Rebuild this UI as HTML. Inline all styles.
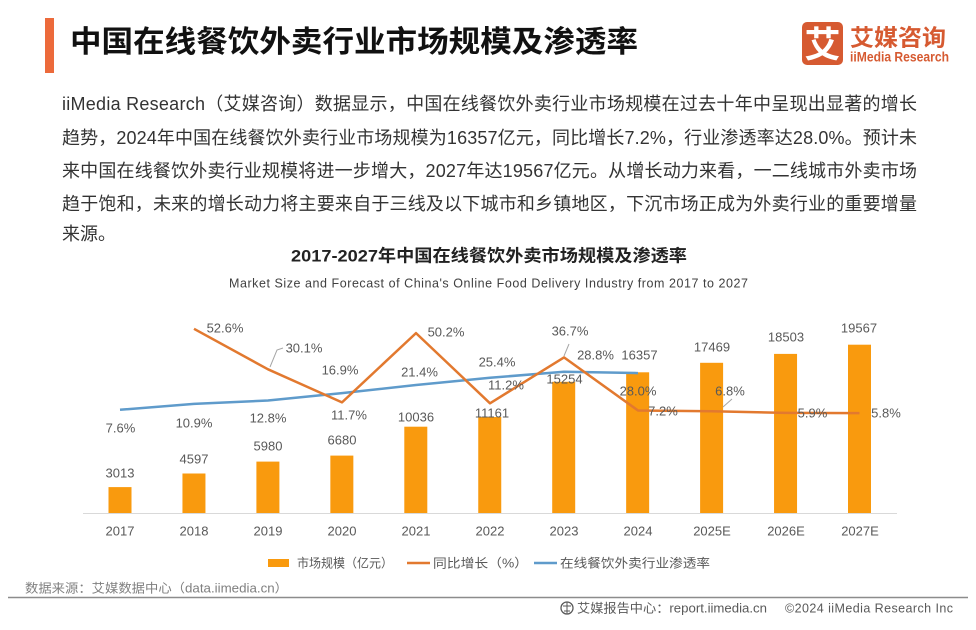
<!DOCTYPE html>
<html>
<head>
<meta charset="utf-8">
<style>
html,body{margin:0;padding:0;background:#fff;}
svg{display:block;}
text{font-family:"Liberation Sans","Noto Sans CJK SC",sans-serif;}
</style>
</head>
<body>
<svg width="976" height="630" viewBox="0 0 976 630" xmlns="http://www.w3.org/2000/svg">
<rect x="0" y="0" width="976" height="630" fill="#ffffff"/>

<!-- Header -->
<rect x="45" y="18" width="9" height="55" fill="#EC6A3B"/>
<text x="70" y="52" font-size="30" font-weight="bold" fill="#111" textLength="568" lengthAdjust="spacingAndGlyphs">中国在线餐饮外卖行业市场规模及渗透率</text>

<!-- Logo -->
<rect x="802" y="22" width="41" height="43" rx="5" fill="#D65A31"/>
<text x="822.5" y="57" font-size="36" font-weight="bold" fill="#fff" text-anchor="middle">艾</text>
<text x="850" y="45.5" font-size="23" font-weight="bold" fill="#D65A31" textLength="96" lengthAdjust="spacingAndGlyphs">艾媒咨询</text>
<text x="850" y="61.5" font-size="14" font-weight="bold" fill="#D65A31" textLength="99" lengthAdjust="spacingAndGlyphs">iiMedia Research</text>

<!-- Paragraph -->
<g font-size="18" fill="#333">
<text x="62" y="110" textLength="855" lengthAdjust="spacing">iiMedia Research（艾媒咨询）数据显示，中国在线餐饮外卖行业市场规模在过去十年中呈现出显著的增长</text>
<text x="62" y="144" textLength="855" lengthAdjust="spacing">趋势，2024年中国在线餐饮外卖行业市场规模为16357亿元，同比增长7.2%，行业渗透率达28.0%。预计未</text>
<text x="62" y="177" textLength="855" lengthAdjust="spacing">来中国在线餐饮外卖行业规模将进一步增大，2027年达19567亿元。从增长动力来看，一二线城市外卖市场</text>
<text x="62" y="210" textLength="855" lengthAdjust="spacing">趋于饱和，未来的增长动力将主要来自于三线及以下城市和乡镇地区，下沉市场正成为外卖行业的重要增量</text>
<text x="62" y="240">来源。</text>
</g>

<!-- Chart titles -->
<text x="291" y="261.5" font-size="17" font-weight="bold" fill="#222" textLength="396" lengthAdjust="spacingAndGlyphs">2017-2027年中国在线餐饮外卖市场规模及渗透率</text>
<text x="229" y="287.5" font-size="12.5" fill="#404040" textLength="519" lengthAdjust="spacing">Market Size and Forecast of China's Online Food Delivery Industry from 2017 to 2027</text>

<!-- Axis -->
<line x1="83" y1="513.5" x2="897" y2="513.5" stroke="#d9d9d9" stroke-width="1"/>

<!-- Bars -->
<g fill="#F99A0E">
<rect x="108.5" y="487.1" width="23" height="25.9"/>
<rect x="182.45" y="473.5" width="23" height="39.5"/>
<rect x="256.4" y="461.6" width="23" height="51.4"/>
<rect x="330.35" y="455.6" width="23" height="57.4"/>
<rect x="404.3" y="426.7" width="23" height="86.3"/>
<rect x="478.25" y="417.0" width="23" height="96.0"/>
<rect x="552.2" y="381.8" width="23" height="131.2"/>
<rect x="626.15" y="372.3" width="23" height="140.7"/>
<rect x="700.1" y="362.8" width="23" height="150.2"/>
<rect x="774.05" y="353.9" width="23" height="159.1"/>
<rect x="848" y="344.7" width="23" height="168.3"/>
</g>

<!-- Penetration line -->
<polyline fill="none" stroke="#5F9BCB" stroke-width="2.5" stroke-linejoin="round" points="120,409.8 194,403.9 268,400.5 342,393.1 416,385 490,377.8 564,371.7 638,373.1"/>

<!-- Growth line -->
<polyline fill="none" stroke="#E2792F" stroke-width="2.5" stroke-linejoin="round" points="194,328.8 268,369.3 342,402.4 416,333.1 490,403.3 564,357.4 638,410.5 711.6,411.3 785.5,412.9 859.5,413.1"/>

<!-- Leader lines -->
<g fill="none" stroke="#a6a6a6" stroke-width="1">
<polyline points="270,367 277,350 283,348"/>
<polyline points="564,356 569,344"/>
<polyline points="723,407 732,399"/>
</g>

<!-- Bar value labels -->
<g font-size="13" fill="#595959" text-anchor="middle">
<text x="120" y="477.5">3013</text>
<text x="194" y="463.5">4597</text>
<text x="268" y="450.5">5980</text>
<text x="342" y="444.5">6680</text>
<text x="416" y="421.5">10036</text>
<text x="492" y="417.5">11161</text>
<text x="564.5" y="383.5">15254</text>
<text x="639.5" y="359.5">16357</text>
<text x="712" y="351.5">17469</text>
<text x="786" y="341.5">18503</text>
<text x="859" y="332.5">19567</text>
</g>

<!-- Growth labels -->
<g font-size="13" fill="#595959" text-anchor="middle">
<text x="225" y="332.5">52.6%</text>
<text x="304" y="352.5">30.1%</text>
<text x="349" y="419.5">11.7%</text>
<text x="446" y="336.5">50.2%</text>
<text x="506" y="389.5">11.2%</text>
<text x="570" y="335.5">36.7%</text>
<text x="663" y="415.5">7.2%</text>
<text x="730" y="395.5">6.8%</text>
<text x="812.5" y="417.5">5.9%</text>
<text x="886" y="417.5">5.8%</text>
</g>

<!-- Penetration labels -->
<g font-size="13" fill="#595959" text-anchor="middle">
<text x="120.5" y="432.5">7.6%</text>
<text x="194" y="427.5">10.9%</text>
<text x="268" y="422.5">12.8%</text>
<text x="340" y="374.5">16.9%</text>
<text x="419.5" y="376.5">21.4%</text>
<text x="497" y="366.5">25.4%</text>
<text x="595.5" y="359.5">28.8%</text>
<text x="638" y="395.5">28.0%</text>
</g>

<!-- X labels -->
<g font-size="13" fill="#595959" text-anchor="middle">
<text x="120" y="535.5">2017</text>
<text x="194" y="535.5">2018</text>
<text x="268" y="535.5">2019</text>
<text x="342" y="535.5">2020</text>
<text x="416" y="535.5">2021</text>
<text x="490" y="535.5">2022</text>
<text x="564" y="535.5">2023</text>
<text x="638" y="535.5">2024</text>
<text x="712" y="535.5">2025E</text>
<text x="786" y="535.5">2026E</text>
<text x="860" y="535.5">2027E</text>
</g>

<!-- Legend -->
<rect x="268" y="559" width="21" height="8" fill="#F99A0E"/>
<text x="297" y="567.5" font-size="12.5" fill="#595959" textLength="96" lengthAdjust="spacingAndGlyphs">市场规模（亿元）</text>
<line x1="407" y1="563" x2="430" y2="563" stroke="#E2792F" stroke-width="2.5"/>
<text x="433" y="567.5" font-size="12.5" fill="#595959" textLength="95" lengthAdjust="spacingAndGlyphs">同比增长（%）</text>
<line x1="534" y1="563" x2="557" y2="563" stroke="#5F9BCB" stroke-width="2.5"/>
<text x="560" y="567.5" font-size="12.5" fill="#595959" textLength="150" lengthAdjust="spacingAndGlyphs">在线餐饮外卖行业渗透率</text>

<!-- Source -->
<text x="25" y="592.5" font-size="12.5" fill="#7f7f7f" textLength="263" lengthAdjust="spacingAndGlyphs">数据来源：艾媒数据中心（data.iimedia.cn）</text>
<line x1="8" y1="597.5" x2="968" y2="597.5" stroke="#8c8c8c" stroke-width="1.5"/>

<!-- Footer -->
<circle cx="567" cy="608" r="6" fill="none" stroke="#595959" stroke-width="1.3"/>
<path d="M563 606 L571 606 M567 602 L567 614 M564 611 L570 611" stroke="#595959" stroke-width="1" fill="none"/>
<text x="577" y="612.5" font-size="12.5" fill="#595959" textLength="190" lengthAdjust="spacingAndGlyphs">艾媒报告中心：report.iimedia.cn</text>
<text x="785" y="612.5" font-size="12.5" fill="#595959" textLength="168" lengthAdjust="spacing">©2024  iiMedia Research  Inc</text>
</svg>
</body>
</html>
